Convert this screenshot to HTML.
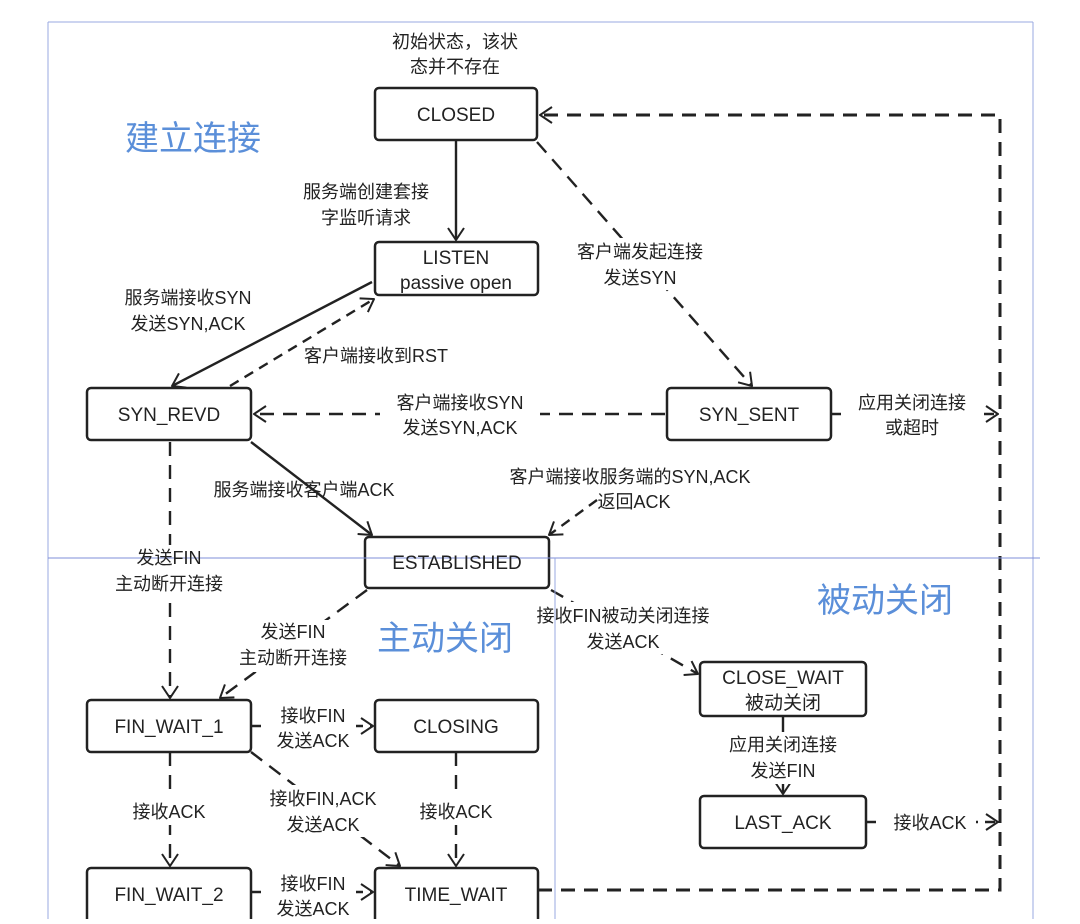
<!DOCTYPE html>
<html><head><meta charset="utf-8"><style>
html,body{margin:0;padding:0;background:#fff}
svg text{font-family:"Liberation Sans","Noto Sans CJK SC",sans-serif;fill:#222}
</style></head><body>
<svg width="1080" height="919" viewBox="0 0 1080 919" xmlns="http://www.w3.org/2000/svg">
<defs>
<marker id="a" markerWidth="14" markerHeight="18" refX="13" refY="9" orient="auto" markerUnits="userSpaceOnUse">
<path d="M1,1 L13,9 L1,17" fill="none" stroke="#222" stroke-width="2"/></marker>
</defs>
<!-- boxes -->
<g fill="#fff" stroke="#222" stroke-width="2.5">
<rect x="375" y="88" width="162" height="52" rx="4"/>
<rect x="375" y="242" width="163" height="53" rx="4"/>
<rect x="87" y="388" width="164" height="52" rx="4"/>
<rect x="667" y="388" width="164" height="52" rx="4"/>
<rect x="365" y="537" width="184" height="51" rx="4"/>
<rect x="87" y="700" width="164" height="52" rx="4"/>
<rect x="375" y="700" width="163" height="52" rx="4"/>
<rect x="87" y="868" width="164" height="60" rx="4"/>
<rect x="375" y="868" width="163" height="60" rx="4"/>
<rect x="700" y="662" width="166" height="54" rx="4"/>
<rect x="700" y="796" width="166" height="52" rx="4"/>
</g>
<!-- connectors -->
<g stroke="#222" stroke-width="2.4" fill="none">
<line x1="456" y1="140" x2="456" y2="240" marker-end="url(#a)"/>
<line x1="372" y1="282" x2="172" y2="386" marker-end="url(#a)"/>
<line x1="230" y1="386" x2="374" y2="299" stroke-dasharray="10,7" marker-end="url(#a)"/>
<line x1="537" y1="142" x2="752" y2="386" stroke-dasharray="14,9" marker-end="url(#a)"/>
<line x1="665" y1="414" x2="254" y2="414" stroke-dasharray="14,9" marker-end="url(#a)"/>
<line x1="831" y1="414" x2="998" y2="414" stroke-dasharray="10,7" marker-end="url(#a)"/>
<line x1="251" y1="442" x2="372" y2="535" marker-end="url(#a)"/>
<line x1="597" y1="500" x2="549" y2="535" stroke-dasharray="10,7" marker-end="url(#a)"/>
<line x1="170" y1="442" x2="170" y2="698" stroke-dasharray="14,9" marker-end="url(#a)"/>
<line x1="367" y1="590" x2="220" y2="698" stroke-dasharray="14,9" marker-end="url(#a)"/>
<line x1="551" y1="590" x2="698" y2="674" stroke-dasharray="14,9" marker-end="url(#a)"/>
<line x1="783" y1="716" x2="783" y2="794" marker-end="url(#a)"/>
<line x1="866" y1="822" x2="998" y2="822" stroke-dasharray="10,7" marker-end="url(#a)"/>
<line x1="251" y1="726" x2="373" y2="726" stroke-dasharray="10,7" marker-end="url(#a)"/>
<line x1="251" y1="892" x2="373" y2="892" stroke-dasharray="10,7" marker-end="url(#a)"/>
<line x1="170" y1="752" x2="170" y2="866" stroke-dasharray="14,9" marker-end="url(#a)"/>
<line x1="456" y1="752" x2="456" y2="866" stroke-dasharray="14,9" marker-end="url(#a)"/>
<line x1="251" y1="752" x2="400" y2="866" stroke-dasharray="14,9" marker-end="url(#a)"/>
<polyline points="538,890 1000,890 1000,115 540,115" stroke-width="3" stroke-dasharray="14,9" marker-end="url(#a)"/>
</g>
<!-- label backgrounds -->
<g fill="#fff">
<rect x="380" y="392" width="160" height="46"/>
<rect x="268" y="702" width="88" height="50"/>
<rect x="268" y="870" width="88" height="49"/>
<rect x="118" y="795" width="100" height="30"/>
<rect x="408" y="795" width="96" height="30"/>
<rect x="258" y="785" width="132" height="52"/>
<rect x="100" y="545" width="140" height="52"/>
<rect x="228" y="620" width="130" height="52"/>
<rect x="520" y="602" width="210" height="52"/>
<rect x="710" y="732" width="140" height="52"/>
<rect x="880" y="806" width="96" height="30"/>
<rect x="846" y="388" width="134" height="50"/>
<rect x="566" y="238" width="150" height="52"/>
<rect x="290" y="180" width="150" height="52"/>
</g>
<!-- blue frames -->
<g stroke="#9aa8e0" stroke-width="1" fill="none">
<line x1="48" y1="22" x2="1033" y2="22"/>
<line x1="48" y1="22" x2="48" y2="919"/>
<line x1="1033" y1="22" x2="1033" y2="919"/>
<line x1="48" y1="558" x2="1040" y2="558" stroke="#7f8fd8"/>
<line x1="555" y1="558" x2="555" y2="919"/>
</g>
<g font-size="19" text-anchor="middle">
<text x="456" y="121">CLOSED</text>
<text x="456" y="264">LISTEN</text>
<text x="456" y="289">passive open</text>
<text x="169" y="421">SYN_REVD</text>
<text x="749" y="421">SYN_SENT</text>
<text x="457" y="569">ESTABLISHED</text>
<text x="169" y="733">FIN_WAIT_1</text>
<text x="456" y="733">CLOSING</text>
<text x="169" y="901">FIN_WAIT_2</text>
<text x="456" y="901">TIME_WAIT</text>
<text x="783" y="684">CLOSE_WAIT</text>
<text x="783" y="709">被动关闭</text>
<text x="783" y="829">LAST_ACK</text>
</g>
<g font-size="18" text-anchor="middle">
<text x="455" y="48">初始状态，该状</text>
<text x="455" y="73">态并不存在</text>
<text x="366" y="198">服务端创建套接</text>
<text x="366" y="224">字监听请求</text>
<text x="640" y="258">客户端发起连接</text>
<text x="640" y="284">发送SYN</text>
<text x="188" y="304">服务端接收SYN</text>
<text x="188" y="330">发送SYN,ACK</text>
<text x="376" y="362">客户端接收到RST</text>
<text x="460" y="409">客户端接收SYN</text>
<text x="460" y="434">发送SYN,ACK</text>
<text x="912" y="409">应用关闭连接</text>
<text x="912" y="434">或超时</text>
<text x="304" y="496">服务端接收客户端ACK</text>
<text x="630" y="483">客户端接收服务端的SYN,ACK</text>
<text x="634" y="508">返回ACK</text>
<text x="169" y="564">发送FIN</text>
<text x="169" y="590">主动断开连接</text>
<text x="293" y="638">发送FIN</text>
<text x="293" y="664">主动断开连接</text>
<text x="623" y="622">接收FIN被动关闭连接</text>
<text x="623" y="648">发送ACK</text>
<text x="783" y="751">应用关闭连接</text>
<text x="783" y="777">发送FIN</text>
<text x="313" y="722">接收FIN</text>
<text x="313" y="747">发送ACK</text>
<text x="169" y="818">接收ACK</text>
<text x="323" y="805">接收FIN,ACK</text>
<text x="323" y="831">发送ACK</text>
<text x="456" y="818">接收ACK</text>
<text x="313" y="890">接收FIN</text>
<text x="313" y="915">发送ACK</text>
<text x="930" y="829">接收ACK</text>
</g>
<g font-size="34" text-anchor="middle">
<text x="193" y="150" style="fill:#5b8fd9">建立连接</text>
<text x="445" y="650" style="fill:#5b8fd9">主动关闭</text>
<text x="885" y="612" style="fill:#5b8fd9">被动关闭</text>
</g>
</svg>
</body></html>
